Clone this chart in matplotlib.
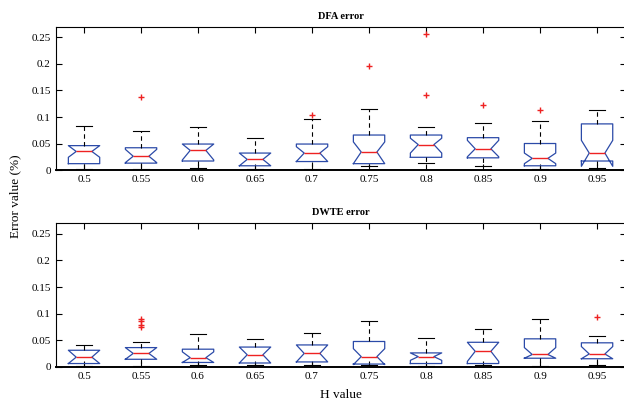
import matplotlib
matplotlib.use("Agg")
import matplotlib.pyplot as plt

plt.rcParams["font.family"] = "Liberation Serif"
plt.rcParams["font.size"] = 8

h_values = ['0.5', '0.55', '0.6', '0.65', '0.7', '0.75', '0.8', '0.85', '0.9', '0.95']

# DFA error, box statistics
dfa_med = [0.035, 0.026, 0.037, 0.020, 0.032, 0.034, 0.048, 0.040, 0.022, 0.032]
dfa_q1 = [0.012, 0.013, 0.017, 0.008, 0.016, 0.012, 0.024, 0.023, 0.008, 0.017]
dfa_q3 = [0.046, 0.042, 0.049, 0.032, 0.049, 0.066, 0.066, 0.061, 0.050, 0.087]
dfa_lo = [0.002, 0.002, 0.004, 0.001, 0.002, 0.008, 0.014, 0.007, 0.001, 0.003]
dfa_hi = [0.083, 0.073, 0.081, 0.061, 0.097, 0.115, 0.082, 0.088, 0.093, 0.113]
dfa_cilo = [0.024, 0.014, 0.019, 0.008, 0.016, 0.012, 0.032, 0.025, 0.012, 0.007]
dfa_cihi = [0.046, 0.039, 0.049, 0.032, 0.044, 0.053, 0.060, 0.056, 0.032, 0.056]
dfa_out = [[], [0.138], [], [], [0.103], [0.196], [0.257, 0.142], [0.122], [0.114], []]

# DWTE error
dwte_med = [0.018, 0.025, 0.017, 0.0225, 0.025, 0.019, 0.019, 0.029, 0.023, 0.024]
dwte_q1 = [0.006, 0.014, 0.008, 0.007, 0.009, 0.005, 0.006, 0.006, 0.016, 0.015]
dwte_q3 = [0.031, 0.036, 0.033, 0.037, 0.041, 0.0475, 0.026, 0.046, 0.0525, 0.045]
dwte_lo = [0.002, 0.002, 0.003, 0.003, 0.003, 0.004, 0.002, 0.004, 0.002, 0.003]
dwte_hi = [0.041, 0.046, 0.062, 0.052, 0.064, 0.086, 0.055, 0.071, 0.089, 0.058]
dwte_cilo = [0.006, 0.014, 0.008, 0.007, 0.009, 0.004, 0.012, 0.010, 0.016, 0.015]
dwte_cihi = [0.031, 0.036, 0.028, 0.037, 0.041, 0.034, 0.026, 0.046, 0.036, 0.038]
dwte_out = [[], [0.090, 0.086, 0.079, 0.075], [], [], [], [], [], [], [], [0.094]]


def make_stats(med, q1, q3, lo, hi, cilo, cihi, out):
    stats = []
    for i in range(len(med)):
        stats.append({'med': med[i], 'q1': q1[i], 'q3': q3[i],
                      'whislo': lo[i], 'whishi': hi[i],
                      'cilo': cilo[i], 'cihi': cihi[i], 'fliers': out[i]})
    return stats


fig = plt.figure(figsize=(6.24, 4.01), dpi=100)
ax1 = fig.add_axes([0.089, 0.576, 0.9135, 0.357])
ax2 = fig.add_axes([0.089, 0.0855, 0.9135, 0.3576])

blue = '#2b4aa8'
red = '#ee2222'

panels = [(ax1, make_stats(dfa_med, dfa_q1, dfa_q3, dfa_lo, dfa_hi, dfa_cilo, dfa_cihi, dfa_out), 'DFA error'),
          (ax2, make_stats(dwte_med, dwte_q1, dwte_q3, dwte_lo, dwte_hi, dwte_cilo, dwte_cihi, dwte_out), 'DWTE error')]

for ax, stats, title in panels:
    ax.bxp(stats, positions=range(1, 11), widths=0.55, shownotches=True,
           boxprops=dict(color=blue, linewidth=0.9),
           medianprops=dict(color=red, linewidth=1.0),
           whiskerprops=dict(color='k', linestyle=(0, (4, 3)), linewidth=0.8),
           capprops=dict(color='k', linewidth=0.8),
           flierprops=dict(marker='+', markeredgecolor=red, markersize=5, linestyle='none'))
    ax.set_xlim(0.5, 10.5)
    ax.set_ylim(0, 0.27)
    ax.set_xticks(range(1, 11))
    ax.set_xticklabels(h_values)
    ax.set_yticks([0, 0.05, 0.1, 0.15, 0.2, 0.25])
    ax.set_yticklabels(['0', '0.05', '0.1', '0.15', '0.2', '0.25'])
    ax.tick_params(direction='in', top=True, right=True, length=4, width=0.8, labelsize=8)
    for sp in ax.spines.values():
        sp.set_linewidth(0.8)
    ax.spines['bottom'].set_linewidth(1.4)
    ax.set_title(title, fontsize=7.5, fontweight='bold', pad=6)

ax2.set_xlabel('H value', fontsize=9.5, labelpad=6)
fig.text(0.025, 0.51, 'Error value (%)', rotation=90, fontsize=9.5, ha='center', va='center')

fig.savefig('out.png', dpi=100)
